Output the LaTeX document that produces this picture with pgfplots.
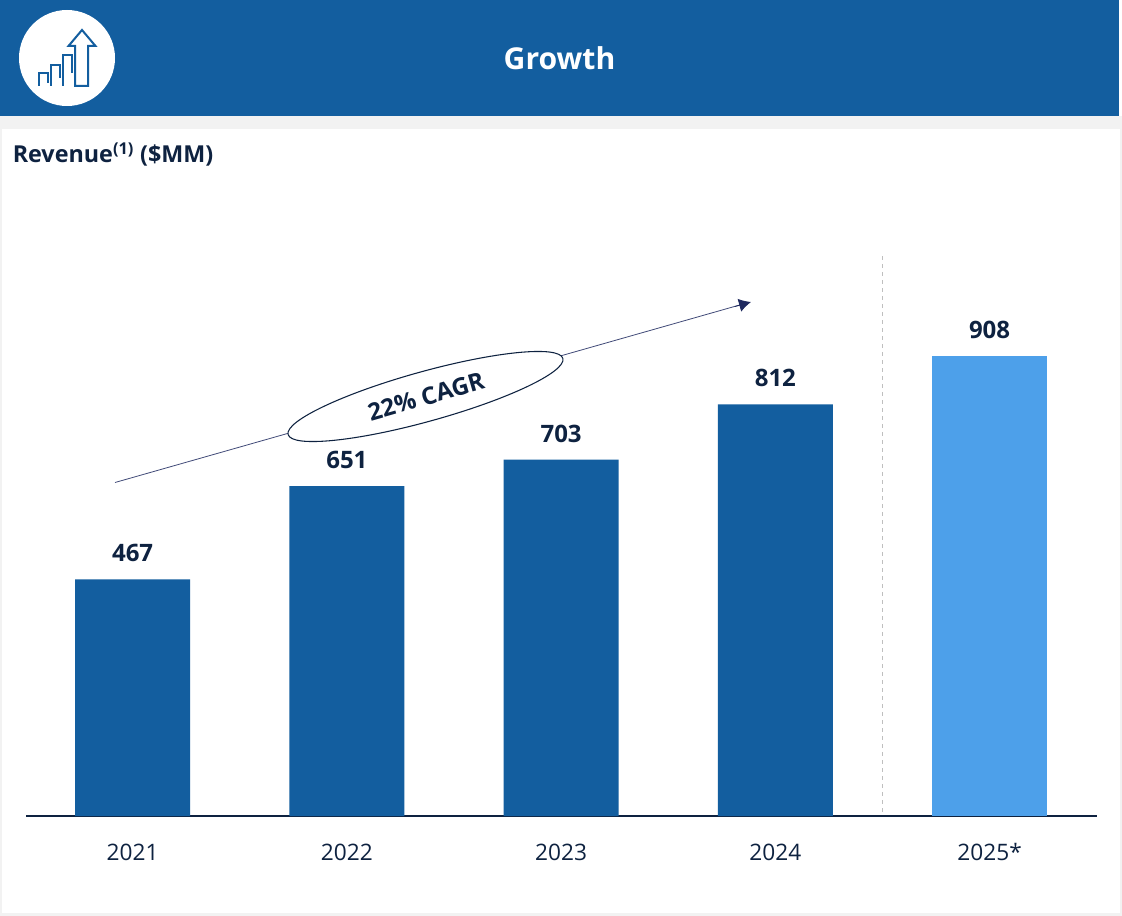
\documentclass[border=0pt]{standalone}
\usepackage{fontspec}
\setmainfont{Open Sans}
\usepackage{pgfplots}
\pgfplotsset{compat=1.18}
\usetikzlibrary{arrows.meta}
\definecolor{hdr}{HTML}{135E9F}
\definecolor{lightb}{HTML}{4DA0EA}
\definecolor{ink}{HTML}{0E2240}
\definecolor{arrowc}{HTML}{1F2A60}
\begin{document}
\begin{tikzpicture}[x=0.75pt,y=-0.75pt]
\useasboundingbox (0,0) rectangle (1122,916);
\fill[white] (0,0) rectangle (1122,916);
\fill[black!5] (0,116) rectangle (1122,916);
\fill[white] (2,129) rectangle (1120,913);
\fill[hdr] (0,0) rectangle (1119,116);
\fill[white] (67,58) circle[radius=36pt];
\begin{scope}[draw=hdr,line width=1.5pt,line join=miter]
\draw (82,30) -- (68.5,46) -- (75,46) -- (75,86) -- (88,86) -- (88,46) -- (95.5,46) -- cycle;
\draw (38.5,86) -- (38.5,73) -- (47.5,73) -- (47.5,83);
\draw (51,86) -- (51,65) -- (59.5,65) -- (59.5,78);
\draw (63,86) -- (63,55.5) -- (71.5,55.5) -- (71.5,73);
\end{scope}
\node[text=white,font=\bfseries\fontsize{22.6}{26}\selectfont] at (559.5,58.5) {Growth};
\node[anchor=base west,inner sep=0pt,text=ink,font=\bfseries\fontsize{17.5}{20}\selectfont] at (12.5,163) {Revenue\textsuperscript{(1)} (\$MM)};
\begin{axis}[
  at={(19.6pt,-612pt)},anchor=south west,
  scale only axis,width=803.25pt,height=469.5pt,
  xmin=-0.497,xmax=4.502,ymin=0,ymax=1235,
  axis x line=bottom,axis y line=none,
  axis line style={draw=ink,line width=1.5pt,-},
  xtick={0,1,2,3,4},
  xticklabels={2021,2022,2023,2024,2025*},
  xtick style={draw=none},
  xticklabel style={text=ink,font=\fontsize{17}{20}\selectfont,text height=12.5pt,text depth=0pt,yshift=-15.2pt},
  /pgf/number format/assume math mode=true,
  nodes near coords,
  nodes near coords style={text=ink,font=\bfseries\fontsize{18}{20}\selectfont,anchor=south,yshift=9.5pt},
  clip=false,
]
\draw[black!25,dashed,line width=0.75pt] (axis cs:3.498,8) -- (axis cs:3.498,1105);
\addplot[ybar,bar width=86.25pt,bar shift=0pt,fill=hdr,draw=none] coordinates {(0,467) (1,651) (2,703) (3,812)};
\addplot[ybar,bar width=86.25pt,bar shift=0pt,fill=lightb,draw=none] coordinates {(4,908)};
\end{axis}
\draw[arrowc!85,line width=0.6pt] (115,482.5) -- (745,303.5);
\draw[arrowc,line width=0.6pt,-{Latex[length=9pt,width=10pt]}] (735,306.5) -- (751,302);
\draw[ink,fill=white,line width=0.8pt,shift={(425.5,396.5)},rotate=15.5] (0,0) ellipse[x radius=106.9pt,y radius=18.7pt];
\node[text=ink,rotate=16,font=\bfseries\fontsize{18}{20}\selectfont] at (426,396.5) {22\% CAGR};
\end{tikzpicture}
\end{document}
